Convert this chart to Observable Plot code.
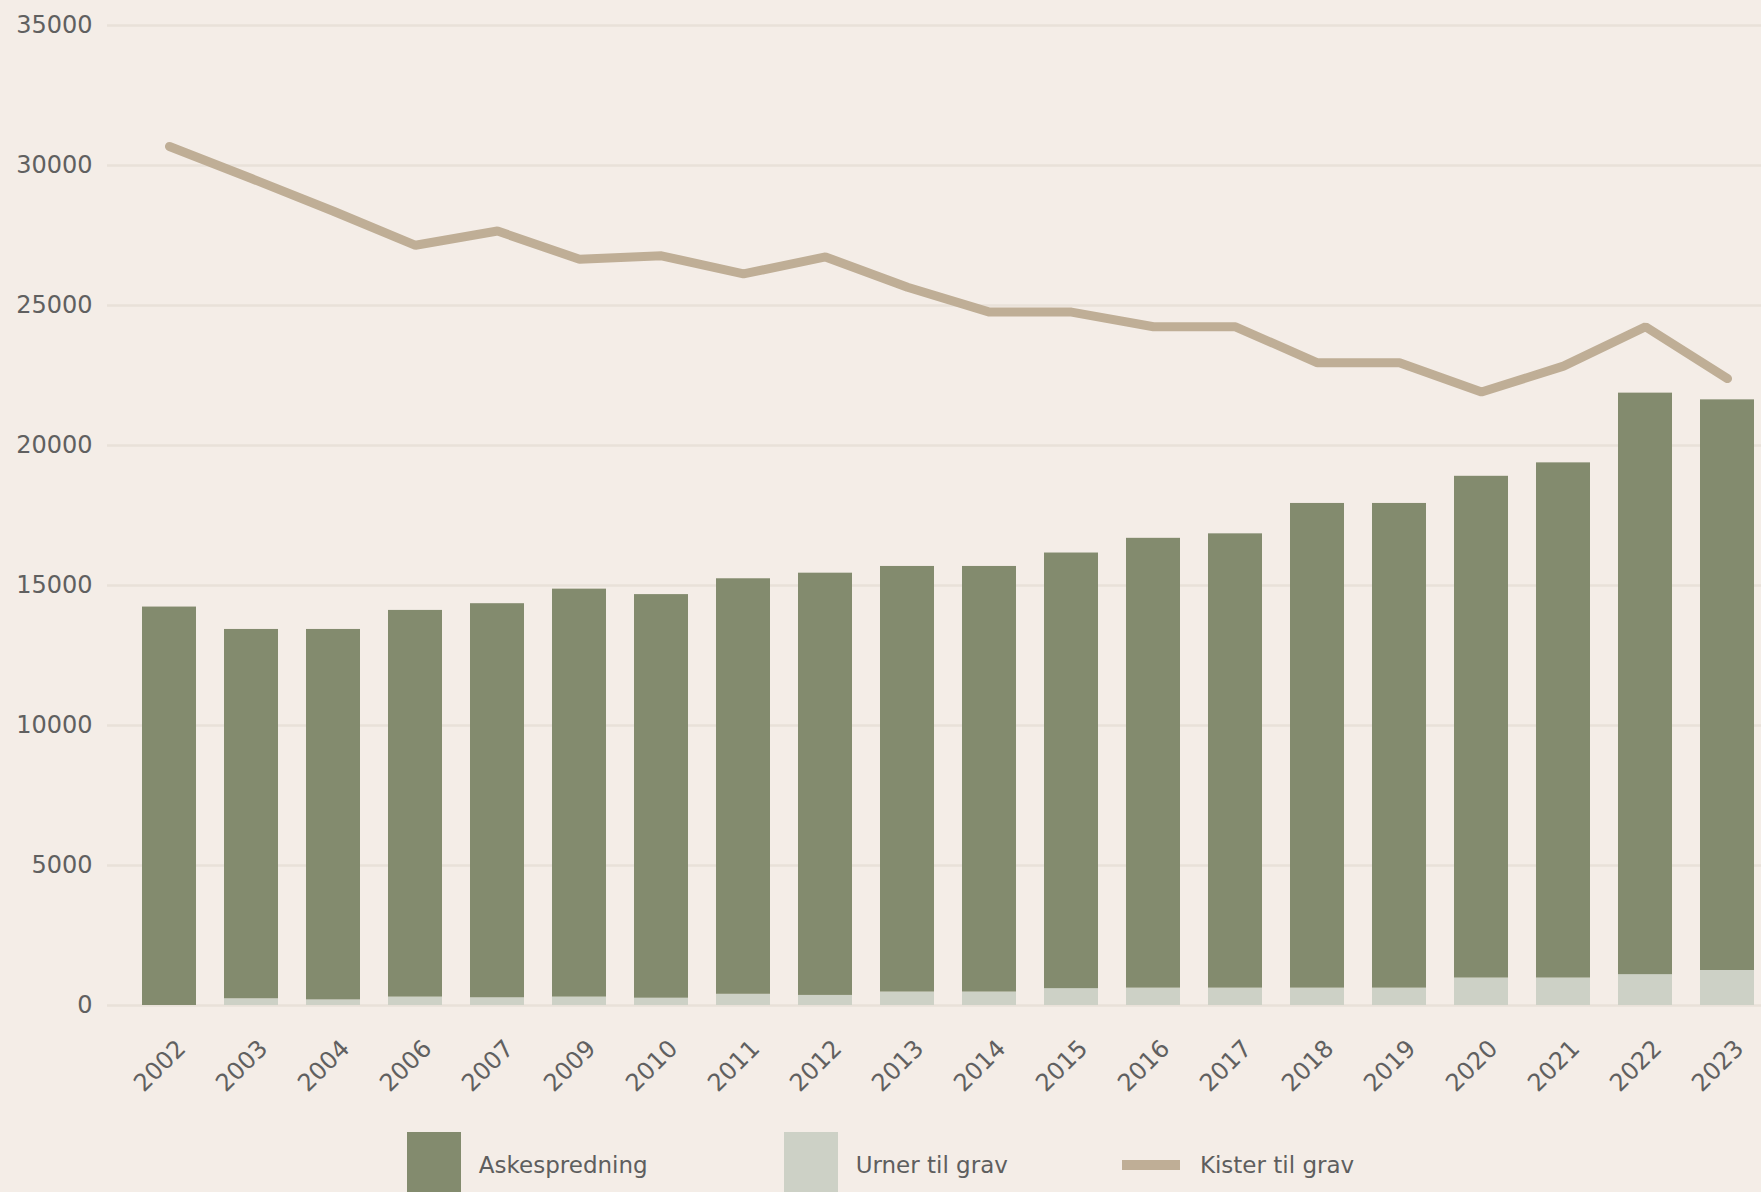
<!DOCTYPE html>
<html>
<head>
<meta charset="utf-8">
<script src="https://cdn.jsdelivr.net/npm/d3@7"></script>
<script src="https://cdn.jsdelivr.net/npm/@observablehq/plot@0.6"></script>
<style>
  html, body { margin: 0; padding: 0; background: #f4ede7; overflow: hidden; }
  #chart { width: 1761px; }
  .legend { display: flex; justify-content: center; align-items: center; height: 90px;
            font-family: "DejaVu Sans", sans-serif; font-size: 23px; color: #5e5e5e; }
  .item { display: flex; align-items: center; margin: 0 62px; }
  .item.i0 { margin-right: 74px; }
  .item.i1 { margin-left: 62px; margin-right: 52px; }
  .sw { width: 54px; height: 66px; margin-right: 18px; }
  .ln { width: 58px; height: 10px; margin-right: 20px; }
</style>
</head>
<body>
<div id="chart"></div>
<script>
const years = ["2002","2003","2004","2006","2007","2009","2010","2011","2012","2013",
               "2014","2015","2016","2017","2018","2019","2020","2021","2022","2023"];
const askespredning = [14230,13190,13230,13810,14075,14570,14415,14840,15080,15200,
                       15200,15560,16065,16225,17310,17310,17920,18400,20770,20380];
const urnerTilGrav = [0,240,200,300,275,300,260,400,360,480,
                      480,600,620,620,620,620,980,980,1100,1250];
const kisterTilGrav = [30680,29535,28365,27150,27660,26650,26775,26130,26735,25650,
                       24765,24765,24240,24240,22955,22955,21910,22835,24240,22390];
const seriesNames = ["Askespredning", "Urner til grav", "Kister til grav"];
const seriesColors = ["#838b6e", "#cdd1c6", "#bfae96"];
const yTicks = [0, 5000, 10000, 15000, 20000, 25000, 30000, 35000];

const stacked = years.flatMap((y, i) => [
  {year: y, serie: seriesNames[1], value: urnerTilGrav[i]},
  {year: y, serie: seriesNames[0], value: askespredning[i]}
]);
const lineData = years.map((y, i) => ({year: y, value: kisterTilGrav[i]}));

const chart = Plot.plot({
  width: 1761,
  height: 1120,
  marginLeft: 107,
  marginRight: -28,
  marginTop: 25,
  marginBottom: 115,
  style: {background: "#f4ede7", fontFamily: "DejaVu Sans, sans-serif", fontSize: "24px", color: "#606060"},
  x: {domain: years, paddingInner: 0.34, paddingOuter: 0.4, label: null},
  y: {domain: [0, 35000], label: null},
  color: {domain: seriesNames, range: seriesColors},
  marks: [
    Plot.gridY(yTicks, {stroke: "#e9e1d9", strokeOpacity: 1, strokeWidth: 2.5}),
    Plot.barY(stacked, {x: "year", y: "value", fill: "serie"}),
    Plot.line(lineData, {x: "year", y: "value", stroke: seriesColors[2], strokeWidth: 9, strokeLinejoin: "miter", strokeLinecap: "round"}),
    Plot.axisY(yTicks, {tickSize: 0, tickPadding: 15, label: null, tickFormat: d => String(d)}),
    Plot.axisX({tickSize: 0, tickRotate: -45, tickPadding: 39, dx: 12, label: null})
  ]
});
document.getElementById("chart").appendChild(chart);

const legend = document.createElement("div");
legend.className = "legend";
seriesNames.forEach((name, i) => {
  const item = document.createElement("div");
  item.className = "item i" + i;
  const sw = document.createElement("div");
  sw.className = i === 2 ? "ln" : "sw";
  sw.style.background = seriesColors[i];
  const t = document.createElement("span");
  t.textContent = name;
  item.appendChild(sw);
  item.appendChild(t);
  legend.appendChild(item);
});
document.getElementById("chart").appendChild(legend);
</script>
</body>
</html>
